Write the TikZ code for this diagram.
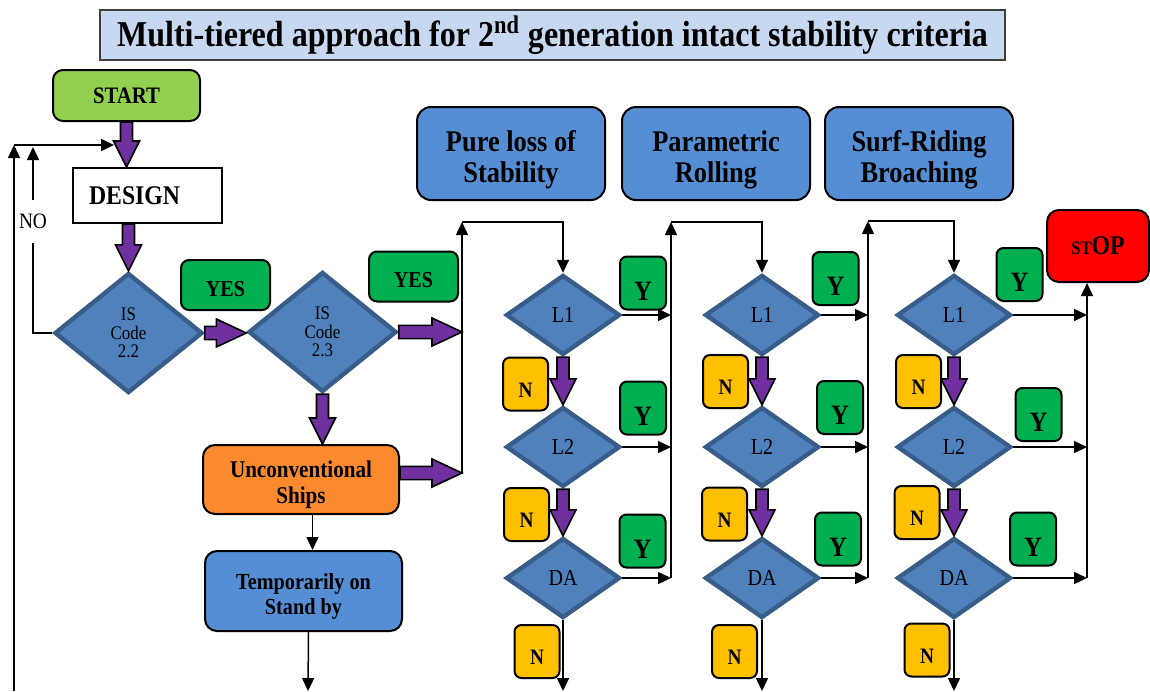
\documentclass[tikz,border=0pt]{standalone}
\usepackage{fontspec}
\setmainfont{Liberation Serif}[FakeStretch=0.88]
\usetikzlibrary{arrows.meta, positioning, shapes.geometric, calc}
\definecolor{istTitle}{HTML}{C6D9F1}
\definecolor{istFrame}{HTML}{3F3F3F}
\definecolor{istLime}{HTML}{92D050}
\definecolor{istGreen}{HTML}{00B050}
\definecolor{istAmber}{HTML}{FFC000}
\definecolor{istOrange}{HTML}{FB8A2E}
\definecolor{istBlue}{HTML}{558ED5}
\definecolor{istSteel}{HTML}{4F81BD}
\definecolor{istSteelDk}{HTML}{385D8A}
\definecolor{istPurple}{HTML}{7030A0}
\definecolor{istRed}{HTML}{FF0000}

% outlined block arrows, from #1 to #2
\newcommand{\fatdown}[2]{%
  \draw[fat] let \p1=(#1), \p2=(#2) in
    (\x1-3pt,\y1) -- (\x1-3pt,\y2+13pt) -- (\x1-6.5pt,\y2+13pt) -- (\x1,\y2)
    -- (\x1+6.5pt,\y2+13pt) -- (\x1+3pt,\y2+13pt) -- (\x1+3pt,\y1) -- cycle;}
\newcommand{\fatright}[2]{%
  \draw[fat] let \p1=(#1), \p2=(#2) in
    (\x1,\y1-3.3pt) -- (\x2-15pt,\y1-3.3pt) -- (\x2-15pt,\y1-7pt) -- (\x2,\y1)
    -- (\x2-15pt,\y1+7pt) -- (\x2-15pt,\y1+3.3pt) -- (\x1,\y1+3.3pt) -- cycle;}
% pushes two-line box text a little lower
\newcommand{\topgap}[1]{\rule{0pt}{#1}}

\begin{document}
\begin{tikzpicture}[
  x=0.5pt, y=-0.5pt,
  >={Triangle[length=6.5pt, width=6pt]},
  flow/.style={->, line width=0.75pt},
  fat/.style={draw=black, fill=istPurple, line width=0.8pt, line join=miter},
  ttl/.style={draw=istFrame, fill=istTitle, line width=1pt, minimum width=452.5pt,
              minimum height=25pt, inner sep=0pt,
              font=\fontsize{18.2}{20}\selectfont\bfseries},
  lbox/.style={draw=black, line width=1pt, rounded corners=5pt, align=center,
               inner sep=2pt, font=\bfseries},
  startbox/.style={lbox, fill=istLime, minimum width=73.5pt, minimum height=25.5pt,
                   font=\fontsize{11.8}{12}\selectfont\bfseries},
  dsg/.style={draw=black, line width=1pt, fill=white, minimum height=27.5pt,
              inner xsep=8pt, text width=58.5pt, align=left,
              font=\fontsize{13.5}{14}\selectfont\bfseries},
  dmd/.style={diamond, draw=istSteelDk, fill=istSteel, line width=2.2pt, inner sep=0pt,
              minimum width=57pt, minimum height=40pt,
              font=\fontsize{11.4}{12}\selectfont},
  isdmd/.style={dmd, minimum width=74pt, minimum height=60pt, align=center,
                font=\fontsize{9.6}{9.3}\selectfont},
  yesbox/.style={lbox, fill=istGreen, minimum width=44.5pt, minimum height=25pt,
                 rounded corners=4pt, text height=11.5pt,
                 font=\fontsize{11.4}{12}\selectfont\bfseries},
  ybox/.style={lbox, fill=istGreen, minimum width=23pt, minimum height=26.5pt,
               rounded corners=3.5pt, text height=17pt,
               font=\fontsize{14}{14}\selectfont\bfseries},
  nbox/.style={lbox, fill=istAmber, minimum width=22.5pt, minimum height=26.5pt,
               rounded corners=3.5pt, text height=13.3pt,
               font=\fontsize{11}{11}\selectfont\bfseries},
  crit/.style={lbox, fill=istBlue, minimum width=94pt, minimum height=46.5pt,
               rounded corners=7pt, font=\fontsize{15}{15.5}\selectfont\bfseries},
  uncbox/.style={lbox, fill=istOrange, minimum width=98pt, minimum height=34.5pt,
                 rounded corners=6pt, font=\fontsize{12}{13}\selectfont\bfseries},
  tmpbox/.style={lbox, fill=istBlue, minimum width=98.5pt, minimum height=40pt,
                 rounded corners=6pt, font=\fontsize{11.5}{12.5}\selectfont\bfseries},
  stopbox/.style={lbox, fill=istRed, minimum width=51pt, minimum height=36pt,
                  rounded corners=6pt, font=\fontsize{13.5}{14}\selectfont\bfseries},
  nolbl/.style={fill=white, inner xsep=1pt, inner ysep=7pt,
                font=\fontsize{11}{11}\selectfont},
]
\useasboundingbox (0,0) rectangle (1150,691);

% ======================= title and entry ================================
\node[ttl] (title) at (552.5,35)
  {Multi-tiered approach for 2\textsuperscript{nd} generation intact stability criteria};
\node[startbox] (start) at (126.5,95.5) {START};
\node[dsg] (design) at (147.5,195.5) {DESIGN};
\node[isdmd] (is22) at (128.5,333) {IS\\Code\\2.2};
\node[isdmd] (is23) at (322.5,332) {IS\\Code\\2.3};
\node[yesbox] (yes1) at (225.5,285) {YES};
\node[yesbox] (yes2) at (413.5,276.5) {YES};
\node[uncbox] (uncon) at (301,479.5) {\topgap{13.1pt}Unconventional\\Ships};
\node[tmpbox] (temp) at (303.5,591) {\topgap{13.8pt}Temporarily on\\Stand by};

\fatdown{start.south}{start.south |- design.north}
\fatdown{is22.north |- design.south}{is22.north}
\fatright{is22.east}{is23.west}
\fatdown{is23.south}{is23.south |- uncon.north}

% loop back to design
\coordinate (loopbot) at (14,691);
\coordinate (looptop) at (14,145);
\coordinate (notop) at (33,147);
\coordinate (dsgin) at (114,145);
\draw[flow] (loopbot) -- (looptop);
\draw[flow] (looptop) -- (dsgin);
\draw[flow] (is22.west) -| node[nolbl, pos=0.8] (nolabel) {NO} (notop);

% unconventional ships
\coordinate (tmpin) at ([xshift=4.5pt]temp.north);
\coordinate (tmpout) at ([xshift=2.5pt]temp.south);
\coordinate (tmpend) at (308,691);
\draw[flow] (uncon.south -| tmpin) -- (tmpin);
\draw[flow] (tmpout) -- (tmpend);

% ======================= failure modes ==================================
\node[crit] (plos) at (511,153.5) {\topgap{16.6pt}Pure loss of\\Stability};
\node[crit] (prol) at (716,153.5) {\topgap{16.6pt}Parametric\\Rolling};
\node[crit] (surf) at (919,153.5) {\topgap{16.6pt}Surf-Riding\\Broaching};
\node[stopbox] (stop) at (1098,246) {{\fontsize{9.5}{10}\selectfont ST}OP};

\coordinate (upa) at (462,222);
\coordinate (upb) at (671,222);
\coordinate (upc) at (868,221);
\coordinate (ina) at (462,473);
\fatright{is23.east}{is23.east -| upa}
\fatright{[yshift=3.25pt]uncon.east}{ina}

\foreach \c/\x/\r in {a/563/671, b/762/868, c/954/1087} {
  \node[dmd] (l1\c) at (\x,315) {L1};
  \node[dmd] (l2\c) at (\x,447) {L2};
  \node[dmd] (da\c) at (\x,578) {DA};
  \fatdown{l1\c.south}{l2\c.north}
  \fatdown{l2\c.south}{da\c.north}
  \coordinate (bus\c) at (\r,578);
  \coordinate (bot\c) at (\x,691);
  \foreach \d in {l1,l2,da}
    \draw[flow] (\d\c.east) -- (\d\c.east -| bus\c);
  \draw[flow] (da\c.south) -- (bot\c);
}

\foreach \n/\x/\y in {ya1/643/283, ya2/643/408, ya3/642.5/541,
                      yb1/835.5/278.5, yb2/840/407.5, yb3/838/539,
                      yc1/1019.5/274.5, yc2/1038.5/414.5, yc3/1033/539}
  \node[ybox] (\n) at (\x,\y) {Y};
\foreach \n/\x/\y in {na1/525.5/384, na2/526.5/514.5, na3/537/651.5,
                      nb1/725.5/381.5, nb2/724.5/514, nb3/734.5/651.5,
                      nc1/918.5/381.5, nc2/917/512.5, nc3/927/650}
  \node[nbox] (\n) at (\x,\y) {N};

% feeds into each column
\draw[flow] (ina) -- (upa);
\draw[flow] (upa) -| (l1a.north);
\draw[flow] (busa) -- (upb);
\draw[flow] (upb) -| (l1b.north);
\draw[flow] (busb) -- (upc);
\draw[flow] (upc) -| (l1c.north);
\draw[flow] (busc) -- (busc |- stop.south);
\end{tikzpicture}
\end{document}
